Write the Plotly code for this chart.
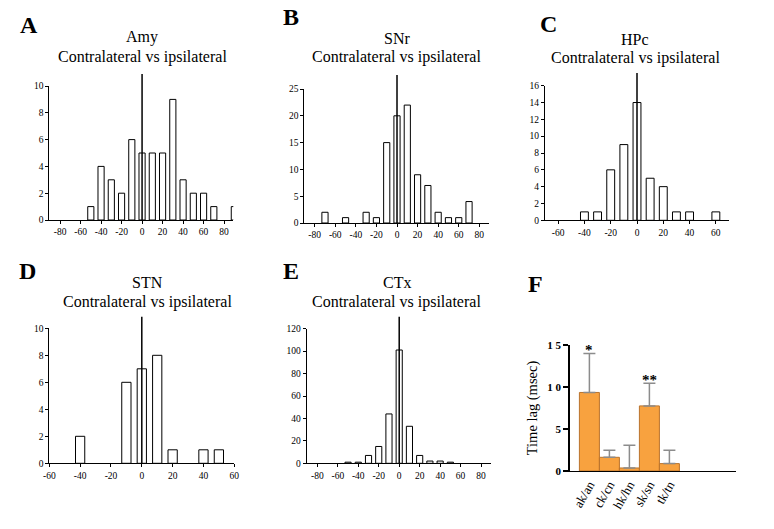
import plotly.graph_objects as go

W, H = 774, 529

# ---------------- data ----------------
amy_bins = [-50, -40, -30, -20, -10, 0, 10, 20, 30, 40, 50, 60, 70, 90]
amy_counts = [1, 4, 3, 2, 6, 5, 5, 5, 9, 3, 2, 2, 1, 1]

snr_bins = [-70, -50, -30, -20, -10, 0, 10, 20, 30, 40, 50, 60, 70]
snr_counts = [2, 1, 2, 1, 15, 20, 22, 9, 7, 2, 1, 1, 4]

hpc_bins = [-40, -30, -20, -10, 0, 10, 20, 30, 40, 60]
hpc_counts = [1, 1, 6, 9, 14, 5, 4, 1, 1, 1]

stn_bins = [-40, -10, 0, 10, 20, 40, 50]
stn_counts = [2, 6, 7, 8, 1, 1, 1]

ctx_bins = [-50, -40, -30, -20, -10, 0, 10, 20, 30, 40, 50]
ctx_counts = [1, 1, 7, 15, 44, 101, 33, 7, 2, 2, 1]

pairs = ["ak/an", "ck/cn", "hk/hn", "sk/sn", "tk/tn"]
lag_mean = [9.35, 1.63, 0.36, 7.75, 0.88]
lag_err = [4.65, 0.83, 2.70, 2.70, 1.58]
lag_sig = ["*", "", "", "**", ""]
f_yticks = [0, 5, 10, 15]
f_yticklabels = ["0", "5", "1 0", "1 5"]

SERIF = "Liberation Serif"

fig = go.Figure()

def px_x(p):
    return p / W

def px_y(p):
    return 1 - p / H

panels = [
    dict(n=1, letter="A", region="Amy", bins=amy_bins, counts=amy_counts,
         xr=[-90.5, 89], ymax=10, dy=2, xticks=list(range(-80, 81, 20)),
         xd=(49.3, 233.3), yd=(86, 220), ltop=10.9, lp=(29, 25), tc=142, ty=(37, 57)),
    dict(n=2, letter="B", region="SNr", bins=snr_bins, counts=snr_counts,
         xr=[-90.1, 89.7], ymax=25, dy=5, xticks=list(range(-80, 81, 20)),
         xd=(304.3, 489.3), yd=(89, 223), ltop=27.6, lp=(291, 17), tc=397, ty=(38, 57)),
    dict(n=3, letter="C", region="HPc", bins=hpc_bins, counts=hpc_counts,
         xr=[-70, 70], ymax=16, dy=2, xticks=list(range(-60, 61, 20)),
         xd=(545, 729), yd=(85.7, 220.3), ltop=17.5, lp=(548, 24), tc=635, ty=(39, 58)),
    dict(n=4, letter="D", region="STN", bins=stn_bins, counts=stn_counts,
         xr=[-60, 60], ymax=10, dy=2, xticks=list(range(-60, 61, 20)),
         xd=(49.3, 234.3), yd=(328.3, 463.3), ltop=10.86, lp=(27, 271), tc=147, ty=(282, 302)),
    dict(n=5, letter="E", region="CTx", bins=ctx_bins, counts=ctx_counts,
         xr=[-90.4, 89.7], ymax=120, dy=20, xticks=list(range(-80, 81, 20)),
         xd=(306.7, 491), yd=(328.7, 463.3), ltop=130.7, lp=(291, 271), tc=397, ty=(282, 302)),
]

layout = dict(
    width=W, height=H, margin=dict(l=0, r=0, t=0, b=0, autoexpand=False),
    paper_bgcolor="white", plot_bgcolor="white", showlegend=False,
    font=dict(family=SERIF, color="black"),
)
shapes = []
annotations = []

for p in panels:
    n = p["n"]
    xa = "x" if n == 1 else f"x{n}"
    ya = "y" if n == 1 else f"y{n}"
    fig.add_trace(go.Bar(
        x=p["bins"], y=p["counts"], width=6,
        marker=dict(color="white", line=dict(color="black", width=1)),
        xaxis=xa, yaxis=ya, hoverinfo="x+y",
    ))
    xd = [px_x(p["xd"][0]), px_x(p["xd"][1])]
    yd = [px_y(p["yd"][1]), px_y(p["yd"][0])]
    layout["xaxis" if n == 1 else f"xaxis{n}"] = dict(
        domain=xd, anchor=ya, range=p["xr"], tickmode="array", tickvals=p["xticks"],
        ticktext=[str(v) for v in p["xticks"]],
        showgrid=False, zeroline=False, showline=True, linecolor="black", linewidth=1,
        ticks="outside", ticklen=3, tickcolor="black", tickwidth=1, automargin=False,
        tickfont=dict(size=9.5, family=SERIF, color="black"),
    )
    layout["yaxis" if n == 1 else f"yaxis{n}"] = dict(
        domain=yd, anchor=xa, range=[0, p["ymax"]], dtick=p["dy"], tick0=0,
        showgrid=False, zeroline=False, showline=True, linecolor="black", linewidth=1,
        ticks="outside", ticklen=3, tickcolor="black", tickwidth=1, automargin=False,
        tickfont=dict(size=9.5, family=SERIF, color="black"),
    )
    r0, r1 = p["xr"]
    x0p = xd[0] + (0 - r0) / (r1 - r0) * (xd[1] - xd[0])
    ytop = yd[0] + p["ltop"] / p["ymax"] * (yd[1] - yd[0])
    shapes.append(dict(type="line", xref="paper", yref="paper",
                       x0=x0p, x1=x0p, y0=yd[0], y1=ytop,
                       line=dict(color="black", width=1.5)))
    annotations.append(dict(text=p["region"], xref="paper", yref="paper",
                            x=px_x(p["tc"]), y=px_y(p["ty"][0]), showarrow=False,
                            xanchor="center", yanchor="middle",
                            font=dict(size=16, family=SERIF, color="black")))
    annotations.append(dict(text="Contralateral vs ipsilateral", xref="paper", yref="paper",
                            x=px_x(p["tc"]), y=px_y(p["ty"][1]), showarrow=False,
                            xanchor="center", yanchor="middle",
                            font=dict(size=16, family=SERIF, color="black")))
    annotations.append(dict(text=f"<b>{p['letter']}</b>", xref="paper", yref="paper",
                            x=px_x(p["lp"][0]), y=px_y(p["lp"][1]), showarrow=False,
                            xanchor="center", yanchor="middle",
                            font=dict(size=24, family=SERIF, color="black")))

# ---------------- panel F ----------------
fig.add_trace(go.Bar(
    x=list(range(len(pairs))), y=lag_mean, width=1,
    marker=dict(color="#F8A23F", line=dict(color="#B9732C", width=1)),
    error_y=dict(type="data", symmetric=False, array=lag_err,
                 arrayminus=[0] * len(lag_err), color="#8C8C8C", thickness=1.5, width=6),
    xaxis="x6", yaxis="y6", hoverinfo="y",
))
layout["xaxis6"] = dict(
    domain=[px_x(570), px_x(736)], anchor="y6", range=[-0.97, 7.33],
    tickmode="array", tickvals=list(range(len(pairs))), ticktext=pairs, tickangle=-60,
    showgrid=False, zeroline=False, showline=True, linecolor="black", linewidth=1.2,
    ticks="", automargin=False, tickfont=dict(size=13, family=SERIF, color="black"),
)
layout["yaxis6"] = dict(
    domain=[px_y(471), px_y(345)], anchor="x6", range=[0, 15],
    tickmode="array", tickvals=f_yticks, ticktext=[f"<b>{t}</b>" for t in f_yticklabels],
    showgrid=False, zeroline=False, showline=True, linecolor="black", linewidth=1.5,
    ticks="outside", ticklen=5, tickcolor="black", tickwidth=1.5, automargin=False,
    tickfont=dict(size=11, family=SERIF, color="black"),
    title=dict(text="Time lag (msec)", font=dict(size=14.5, family=SERIF, color="black"),
               standoff=6),
)
for i, s in enumerate(lag_sig):
    if s:
        annotations.append(dict(text=f"<b>{s}</b>", xref="x6", yref="y6",
                                x=i, y=lag_mean[i] + lag_err[i], showarrow=False,
                                xanchor="center", yanchor="bottom", yshift=-7,
                                font=dict(size=15, family=SERIF, color="black")))
annotations.append(dict(text="<b>F</b>", xref="paper", yref="paper",
                        x=px_x(535), y=px_y(284), showarrow=False,
                        xanchor="center", yanchor="middle",
                        font=dict(size=24, family=SERIF, color="black")))

layout["shapes"] = shapes
layout["annotations"] = annotations
fig.update_layout(**layout)
fig.write_html("out.html", config={"displayModeBar": False},
               post_script="document.body.style.margin='0';document.body.style.padding='0';")
